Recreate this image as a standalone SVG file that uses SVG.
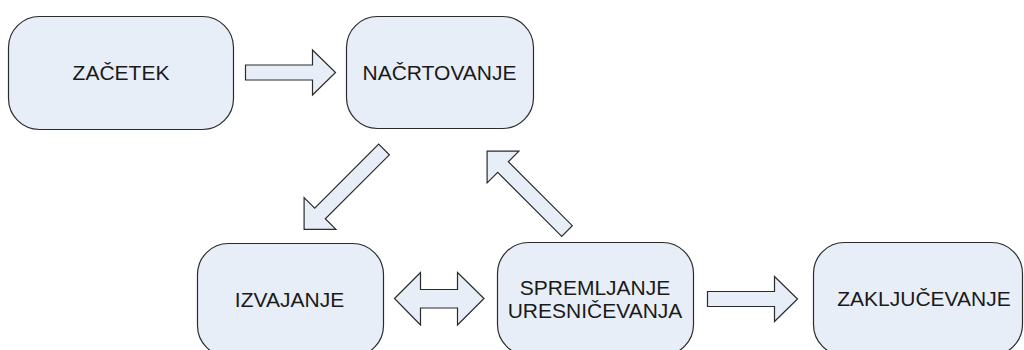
<svg xmlns="http://www.w3.org/2000/svg" width="1024" height="350" viewBox="0 0 1024 350">
  <style>
    .box { fill: #E8EEF8; stroke: #2b2b2b; stroke-width: 1.2; }
    .arrow { fill: #E8EEF8; stroke: #2b2b2b; stroke-width: 1.2; stroke-linejoin: miter; }
    .label { font-family: "Liberation Sans", Arial, sans-serif; font-size: 21px; fill: #1a1a1a; text-anchor: middle; }
  </style>
  <defs>
    <!-- block arrow pointing along +x, tail at origin -->
    <path id="blockArrow" d="M0,-7.5 H67 V-22.5 L90,0 L67,22.5 V7.5 H0 Z"/>
    <path id="blockArrowLong" d="M0,-7.5 H90.5 V-22.5 L113,0 L90.5,22.5 V7.5 H0 Z"/>
  </defs>

  <g id="node-zacetek">
    <rect class="box" x="8.5" y="16.5" width="225" height="113" rx="31"/>
    <text class="label" x="121" y="80">ZAČETEK</text>
  </g>

  <g id="node-nacrtovanje">
    <rect class="box" x="346.5" y="16.5" width="187" height="112" rx="31"/>
    <text class="label" x="439.5" y="79.5">NAČRTOVANJE</text>
  </g>

  <g id="node-izvajanje">
    <rect class="box" x="197.5" y="243.5" width="186" height="113" rx="31"/>
    <text class="label" x="289.5" y="306.5">IZVAJANJE</text>
  </g>

  <g id="node-spremljanje">
    <rect class="box" x="497.5" y="242.5" width="196" height="113" rx="31"/>
    <text class="label" x="595" y="295">SPREMLJANJE</text>
    <text class="label" x="595" y="318">URESNIČEVANJA</text>
  </g>

  <g id="node-zakljucevanje">
    <rect class="box" x="813.5" y="242.5" width="209" height="113" rx="31"/>
    <text class="label" x="924" y="306">ZAKLJUČEVANJE</text>
  </g>

  <g id="connectors">
    <use href="#blockArrow" class="arrow" transform="translate(245.5,72.5)"/>
    <use href="#blockArrowLong" class="arrow" transform="translate(384,149.5) rotate(135)"/>
    <use href="#blockArrowLong" class="arrow" transform="translate(567,231) rotate(-135)"/>
    <path class="arrow" d="M394.5,298.5 L420.5,272.5 V289.5 H457.5 V272.5 L484,298.5 L457.5,325 V308 H420.5 V325 Z"/>
    <use href="#blockArrow" class="arrow" transform="translate(707.5,299)"/>
  </g>
</svg>
